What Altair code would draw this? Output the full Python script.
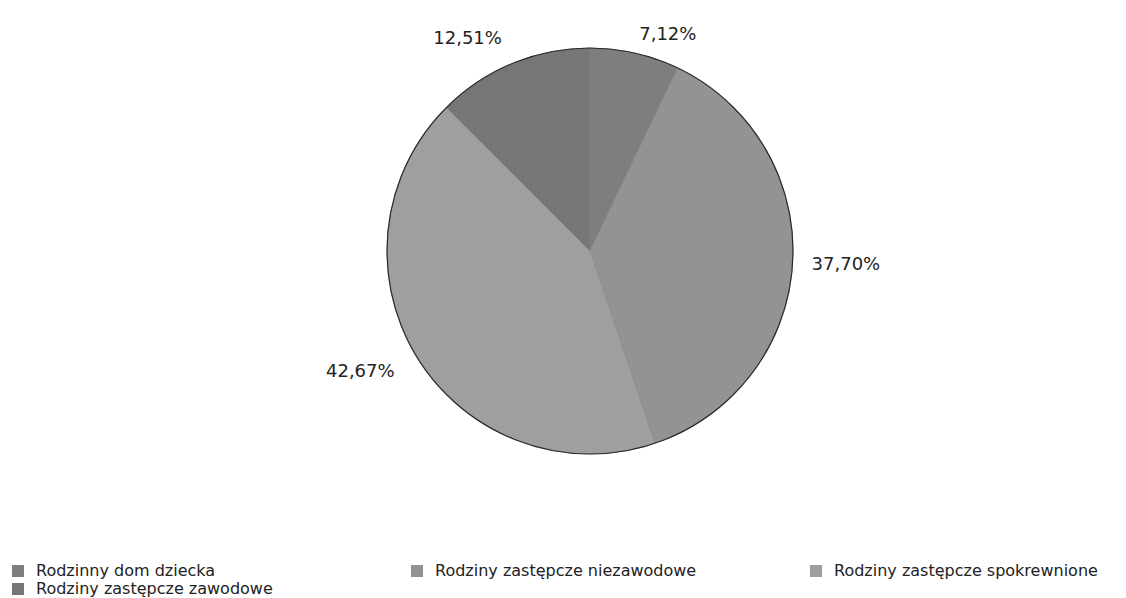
import altair as alt
import pandas as pd
import math

categories = [
    "Rodzinny dom dziecka",
    "Rodziny zastępcze niezawodowe",
    "Rodziny zastępcze spokrewnione",
    "Rodziny zastępcze zawodowe",
]
values = [7.12, 37.70, 42.67, 12.51]
labels = ["7,12%", "37,70%", "42,67%", "12,51%"]
colors = ["#7e7e7e", "#939393", "#9f9f9f", "#767676"]
order = [0, 1, 2, 3]

df = pd.DataFrame({"cat": categories, "val": values, "label": labels, "ord": order})

CX, CY, R = 582, 243, 203

base = alt.Chart(df).encode(
    theta=alt.Theta("val:Q", stack=True),
    order=alt.Order("ord:Q", sort="ascending"),
)

pie = base.mark_arc(outerRadius=R, stroke="#808080", strokeWidth=0.5).encode(
    x=alt.value(CX),
    y=alt.value(CY),
    color=alt.Color(
        "cat:N",
        scale=alt.Scale(domain=categories, range=colors),
        sort=categories,
        legend=alt.Legend(
            title=None,
            orient="none",
            legendX=2,
            legendY=555,
            direction="horizontal",
            columns=3,
            gridAlign="all",
            columnPadding=109,
            rowPadding=2,
            symbolType="square",
            symbolSize=144,
            symbolStrokeWidth=0,
            symbolOpacity=1,
            labelFont="DejaVu Sans",
            labelFontSize=16,
            labelColor="#222222",
            labelOffset=10,
            labelLimit=400,
        ),
    ),
)

ring = alt.Chart(df).transform_aggregate(total="sum(val)").mark_point(
    shape="circle", filled=False, fillOpacity=0, stroke="#2a2a2a", strokeWidth=1.2, size=(2 * R) ** 2
).encode(x=alt.value(CX), y=alt.value(CY))

lab = (
    alt.Chart(df)
    .transform_joinaggregate(total="sum(val)")
    .transform_window(cum="sum(val)", sort=[alt.SortField("ord", order="ascending")])
    .transform_calculate(mid="(datum.cum - datum.val / 2) / datum.total")
)
theta_mid = alt.Theta("mid:Q", scale=alt.Scale(domain=[0, 1], range=[0, 2 * math.pi]), stack=None)

text_right = lab.transform_filter("datum.mid < 0.5").mark_text(
    radius=222, align="left", baseline="middle", font="DejaVu Sans", fontSize=18, color="#222222"
).encode(theta=theta_mid, x=alt.value(CX), y=alt.value(CY), text="label:N")

text_left = lab.transform_filter("datum.mid >= 0.5").mark_text(
    radius=230, align="right", baseline="middle", font="DejaVu Sans", fontSize=18, color="#222222"
).encode(theta=theta_mid, x=alt.value(CX), y=alt.value(CY), text="label:N")

chart = alt.layer(pie, ring, text_right, text_left).resolve_scale(
    theta="independent"
).properties(
    width=1110,
    height=590,
    autosize=alt.AutoSizeParams(type="none"),
    padding=0,
).configure_view(stroke=None)

chart.save("out.html", embed_options={"renderer": "svg", "actions": False})
